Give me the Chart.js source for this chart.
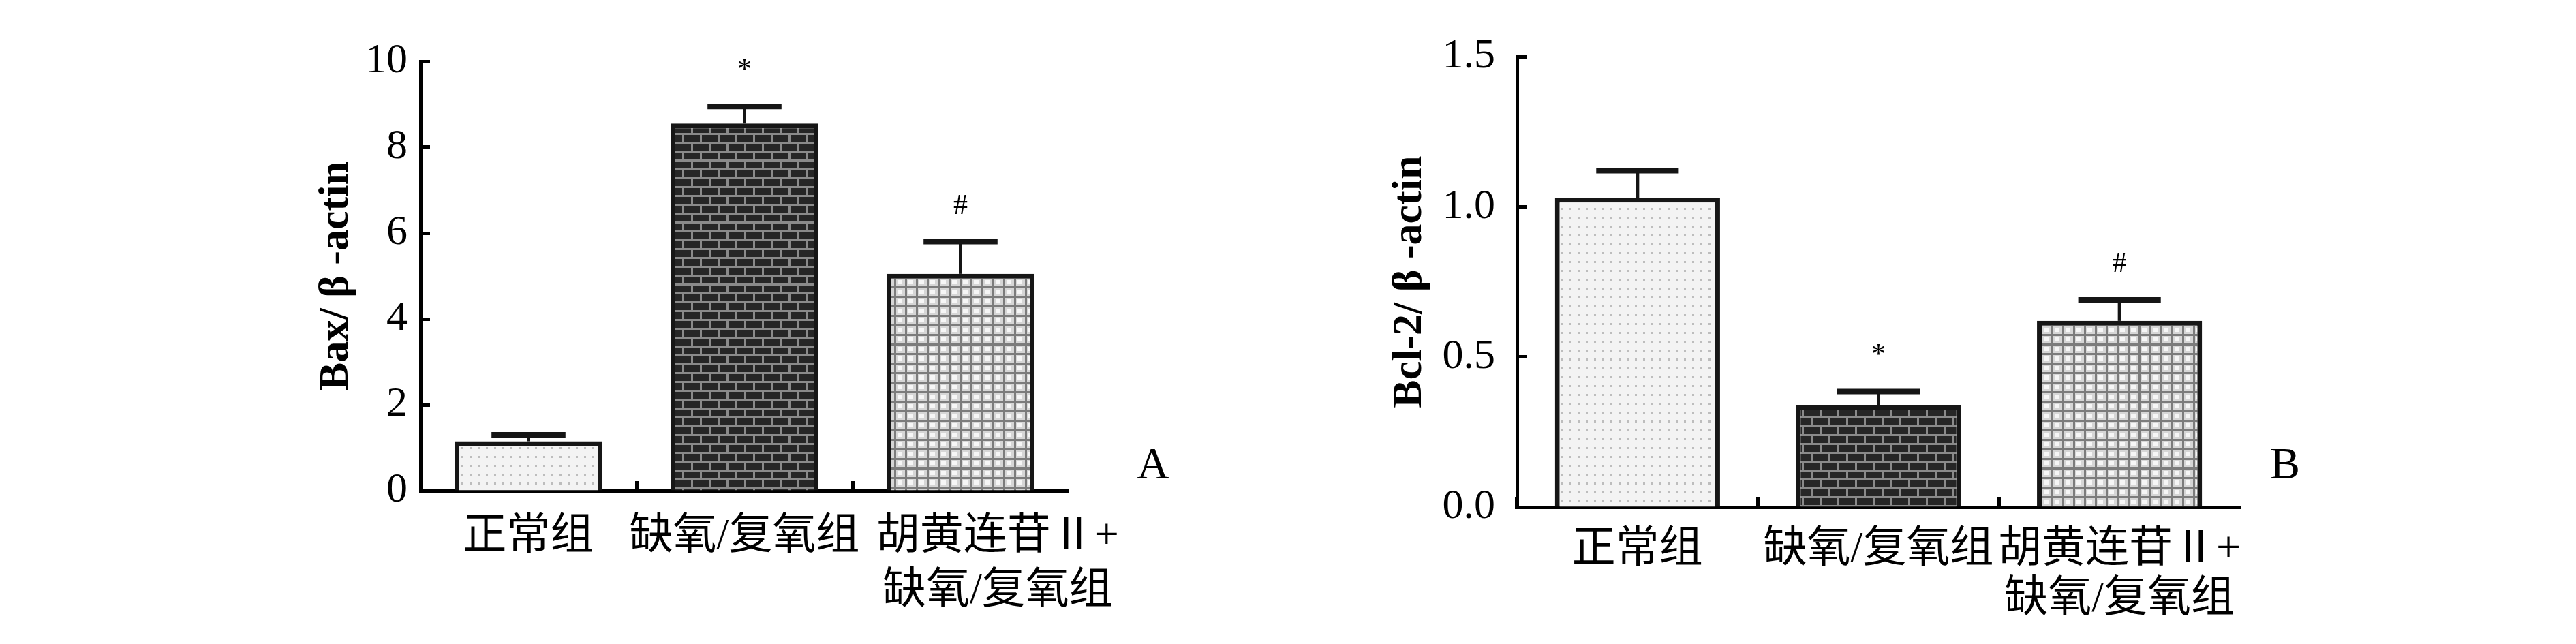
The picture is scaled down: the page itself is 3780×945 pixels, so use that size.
<!DOCTYPE html>
<html>
<head>
<meta charset="utf-8">
<script src="https://cdn.jsdelivr.net/npm/chart.js@4.4.1/dist/chart.umd.min.js"></script>
<style>
html, body { margin: 0; padding: 0; background: #fff; }
#quadro { position: relative; width: 3780px; height: 945px; }
canvas { position: absolute; top: 0; }
</style>
</head>
<body>
<div id="quadro">
  <canvas id="graficoA" width="1890" height="945" style="left:0"></canvas>
  <canvas id="graficoB" width="1890" height="945" style="left:1890px"></canvas>
</div>
<script>
const grupos = [['正常组'], ['缺氧/复氧组'], ['胡黄连苷Ⅱ+', '缺氧/复氧组']];
const baxMedia = [1.15, 8.55, 5.05];
const baxErro = [0.15, 0.4, 0.75];
const bclMedia = [1.03, 0.34, 0.62];
const bclErro = [0.09, 0.045, 0.07];
const marcas = ['', '*', '#'];
const ticksBax = [0, 2, 4, 6, 8, 10];
const ticksBcl = [0, 0.5, 1.0, 1.5];

const serif = '"Liberation Serif", "Noto Sans CJK SC"';

// texturas das barras (pontos, tijolo, grade)
const padrao = (tipo) => {
    const c = document.createElement('canvas');
    const g = c.getContext('2d');
    if (tipo === 'pontos') {
        c.width = 12; c.height = 13;
        g.fillStyle = '#f3f3f3'; g.fillRect(0, 0, 12, 13);
        g.fillStyle = '#bdbdbd'; g.fillRect(5, 6, 3, 3);
    } else if (tipo === 'tijolo') {
        c.width = 26; c.height = 26;
        g.fillStyle = '#262626'; g.fillRect(0, 0, 26, 26);
        g.fillStyle = '#8a8a8a';
        g.fillRect(0, 0, 26, 3); g.fillRect(0, 13, 26, 3);
        g.fillRect(0, 0, 3, 13); g.fillRect(13, 13, 3, 13);
    } else {
        c.width = 16; c.height = 14;
        g.fillStyle = '#d6d6d6'; g.fillRect(0, 0, 16, 14);
        g.fillStyle = '#f6f6f6'; g.fillRect(5, 5, 7, 6);
        g.fillStyle = '#7c7c7c'; g.fillRect(0, 0, 16, 3); g.fillRect(0, 0, 3, 14);
    }
    return g.createPattern(c, 'repeat');
};

const barrasErro = {
    id: 'barrasErro',
    afterDatasetsDraw(chart, args, opts) {
        const { ctx, chartArea } = chart;
        const y = chart.scales.y;
        const medias = chart.data.datasets[0].data;
        ctx.save();
        ctx.strokeStyle = '#151515';
        ctx.fillStyle = '#000';
        chart.getDatasetMeta(0).data.forEach((barra, i) => {
            const topo = y.getPixelForValue(medias[i] + opts.erros[i]);
            ctx.lineWidth = 5;
            ctx.beginPath(); ctx.moveTo(barra.x, barra.y); ctx.lineTo(barra.x, topo); ctx.stroke();
            ctx.lineWidth = 8;
            ctx.beginPath();
            ctx.moveTo(barra.x - barra.width * 0.25, topo);
            ctx.lineTo(barra.x + barra.width * 0.25, topo);
            ctx.stroke();
            if (opts.marcas[i]) {
                ctx.font = '42px ' + serif;
                ctx.textAlign = 'center';
                ctx.textBaseline = 'middle';
                ctx.fillText(opts.marcas[i], barra.x, topo - opts.distMarca);
            }
        });
        ctx.font = '66px ' + serif;
        ctx.textAlign = 'center';
        ctx.textBaseline = 'middle';
        ctx.fillText(opts.letra, chartArea.right + opts.dxLetra, chartArea.bottom - opts.dyLetra);
        ctx.restore();
    }
};

const criarGrafico = (id, cfg) => new Chart(document.getElementById(id).getContext('2d'), {
    type: 'bar',
    data: {
        labels: grupos,
        datasets: [{
            data: cfg.medias,
            backgroundColor: [padrao('pontos'), padrao('tijolo'), padrao('grade')],
            borderColor: '#161616',
            borderWidth: 7,
            borderSkipped: 'start',
            barPercentage: 0.685,
            categoryPercentage: 1
        }]
    },
    options: {
        responsive: false,
        animation: false,
        layout: { padding: { left: cfg.padEsq, right: cfg.padDir, top: cfg.padTopo, bottom: 0 } },
        plugins: {
            legend: { display: false },
            tooltip: { enabled: false },
            barrasErro: { erros: cfg.erros, marcas: marcas, distMarca: cfg.distMarca, letra: cfg.letra, dxLetra: cfg.dxLetra, dyLetra: cfg.dyLetra }
        },
        scales: {
            x: {
                border: { color: '#000', width: 5 },
                grid: {
                    offset: true,
                    drawOnChartArea: false,
                    tickLength: -14,
                    tickWidth: 5,
                    tickColor: (c) => c.type === 'tick' ? '#000' : 'rgba(0,0,0,0)'
                },
                ticks: {
                    color: '#000',
                    font: { family: serif, size: 64, lineHeight: cfg.alturaLinha },
                    padding: cfg.padRotulo,
                    maxRotation: 0,
                    autoSkip: false,
                    // no painel A o terceiro rotulo fica deslocado para a direita
                    callback: (v, i) => i === cfg.recuoIdx ? grupos[i].map(s => '\u3000\u2002\u2009' + s) : grupos[i]
                },
                afterFit: (s) => { s.height = cfg.alturaX; }
            },
            y: {
                min: cfg.ticks[0],
                max: cfg.ticks[cfg.ticks.length - 1],
                afterBuildTicks: (s) => { s.ticks = cfg.ticks.map(v => ({ value: v })); },
                border: { color: '#000', width: 5 },
                grid: { drawOnChartArea: false, tickLength: -14, tickWidth: 5, tickColor: '#000' },
                ticks: {
                    color: '#000',
                    font: { family: serif, size: 62 },
                    padding: cfg.padTickY,
                    callback: cfg.formato
                },
                title: {
                    display: true,
                    text: cfg.titulo,
                    color: '#000',
                    font: { family: serif, size: 62, weight: 'bold', lineHeight: 1.2 },
                    padding: 0
                },
                afterFit: (s) => { s.width = cfg.larguraY; }
            }
        }
    },
    plugins: [barrasErro]
});

criarGrafico('graficoA', {
    medias: baxMedia, erros: baxErro, ticks: ticksBax,
    formato: (v) => String(v),
    titulo: 'Bax/ β -actin', letra: 'A', recuoIdx: 2,
    padEsq: 457, larguraY: 160, padDir: 322, padTopo: 90, alturaX: 225,
    padTickY: 33, padRotulo: 42, alturaLinha: 1.25,
    distMarca: 52, dxLetra: 124, dyLetra: 35
});

criarGrafico('graficoB', {
    medias: bclMedia, erros: bclErro, ticks: ticksBcl,
    formato: (v) => Number(v).toFixed(1),
    titulo: 'Bcl-2/ β -actin', letra: 'B', recuoIdx: -1,
    padEsq: 142, larguraY: 194, padDir: 493, padTopo: 50, alturaX: 201,
    padTickY: 46, padRotulo: 40, alturaLinha: 1.15,
    distMarca: 52, dxLetra: 66, dyLetra: 59
});
</script>
</body>
</html>
